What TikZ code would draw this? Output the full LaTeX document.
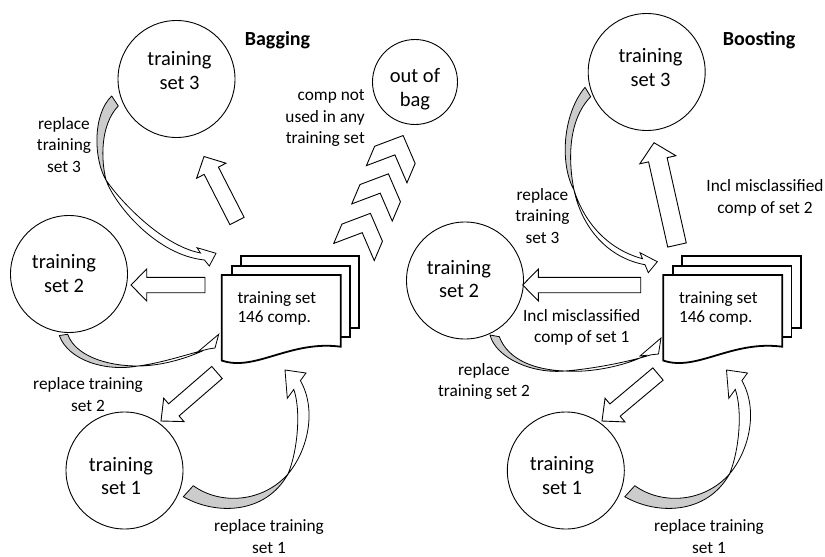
\documentclass[tikz,border=0pt]{standalone}
\usepackage{fontspec}
\setmainfont{Carlito}
\usetikzlibrary{calc}
\definecolor{shade}{RGB}{204,204,204}
\tikzset{
  circ/.style={circle, draw, line width=0.9pt, minimum size=117pt, inner sep=0pt},
  ctext/.style={align=center, inner sep=0pt, font=\fontsize{20.5}{23.5}\selectfont},
  lbl/.style={align=center, inner sep=0pt, font=\fontsize{17.3}{21.5}\selectfont},
  doctext/.style={align=left, inner sep=0pt, font=\fontsize{17.2}{18.5}\selectfont},
  ttl/.style={inner sep=0pt, font=\fontsize{20}{24}\selectfont\bfseries},
  blk/.style={draw, fill=white, line width=0.9pt, line join=miter},
  page/.style={draw, fill=white, line width=1.8pt, line join=miter},
  twist/.style={draw, fill=shade, line width=0.8pt, line join=round},
  band/.style={draw, fill=white, line width=0.8pt, line join=miter},
  chev/.style={draw, fill=white, line width=0.9pt, line join=miter},
  docstack/.pic={
    \draw[page] (19,-19) rectangle (137.6,53.3);
    \draw[page] (10,-9.3) rectangle (128.3,61.7);
    \draw[page] (0,0) -- (119,0) -- (119,71.7)
      .. controls (68.3,65) and (33.3,97) .. (0,85.5) -- cycle;
  },
  chevron/.pic={
    \draw[chev] (0,-22) -- (21,-22) -- (42,0) -- (21,22) -- (0,22) -- (21,0) -- cycle;
  }
}
% block arrow from base #1 to tip #2: shaft half width #3, head half width #4, head length #5
\newcommand\blkarrow[5]{%
  \coordinate (hb) at ($(#2)!#5!(#1)$);
  \draw[blk] ($(#1)!#3!90:(#2)$) -- ($(hb)!#3!90:(#2)$) -- ($(hb)!#4!90:(#2)$)
    -- (#2) -- ($(hb)!#4!-90:(#2)$) -- ($(hb)!#3!-90:(#2)$) -- ($(#1)!#3!-90:(#2)$) -- cycle;
}
\begin{document}
\begin{tikzpicture}[x=1pt,y=-1pt]
\useasboundingbox (0,0) rectangle (825,557);

% ---------------- Bagging ----------------
\node[circ] (b3) at (176.5,79) {};
\node[circ] (b2) at (69,274) {};
\node[circ] (b1) at (124.5,470.5) {};
\node[circ, minimum size=85pt] (bo) at (415,82) {};
\node[ctext] (b3t) at (179.5,70.5) {training\\set 3};
\node[ctext] (b2t) at (64,273.5) {training\\set 2};
\node[ctext] (b1t) at (121,476) {training\\set 1};
\node[ctext] (bot) at (415,89) {out of\\bag};
\node[ttl] (bag) at (277.5,40) {Bagging};

\pic at (221.7,275) {docstack};
\node[doctext] (bdt) at (276.8,308.5) {training set\\146 comp.};

\coordinate (bUa) at (237,221);   \coordinate (bUt) at (204,156.5);
\coordinate (bLa) at (205,285);   \coordinate (bLt) at (131,285);
\coordinate (bDa) at (217,372.5); \coordinate (bDt) at (161,421);
\blkarrow{bUa}{bUt}{8pt}{16.5pt}{16pt}
\blkarrow{bLa}{bLt}{7.7pt}{16pt}{15.7pt}
\blkarrow{bDa}{bDt}{8pt}{15.5pt}{17pt}

% out-of-bag chevrons
\pic[rotate=67] at (386.7,174.2) {chevron};
\pic[rotate=67] at (372,212.5) {chevron};
\pic[rotate=67] at (354,252) {chevron};

% curved arrow: set 3 back to the stack
\draw[twist] (111.7,96) .. controls (92,115) and (94,160) .. (106,180)
  .. controls (101,160) and (100,125) .. (118.3,106) -- cycle;
\draw[band] (106,180) .. controls (114,203) and (155,255) .. (204.5,260)
  -- (209.3,266) -- (216,253.3) -- (197,247.7) -- (200.5,253)
  .. controls (160,245) and (118,198) .. (106,180) -- cycle;

% curved arrow: set 2 back to the stack
\draw[twist] (59.3,335.5) .. controls (68,360) and (105,372) .. (138,366)
  .. controls (105,366) and (75,355) .. (67.7,334.3) -- cycle;
\draw[band] (138,366) .. controls (160,366) and (185,359) .. (203.1,350.6)
  -- (197.3,352.3) -- (218.7,334.3) -- (215,348) -- (208.9,348.9)
  .. controls (188,354) and (162,363) .. (138,366) -- cycle;

% curved arrow: set 1 back to the stack
\draw[twist] (183.3,496.7) .. controls (215,515) and (265,515) .. (288,474)
  .. controls (262,503) and (220,505) .. (193.3,485.7) -- cycle;
\draw[band] (288,474) .. controls (308,450) and (317,410) .. (300.4,380.6)
  -- (306,373) -- (285,370) -- (287.3,398.3) -- (293.8,389.4)
  .. controls (301,410) and (298,450) .. (288,474) -- cycle;

\node[lbl] (lr3) at (64,145) {replace\\training\\set 3};
\node[lbl, align=right, anchor=east] (lnot) at (365,118.5) {comp not\\used in any\\training set};
\node[lbl] (lr2) at (88,394.5) {replace training\\set 2};
\node[lbl] (lr1) at (269,536.5) {replace training\\set 1};

% ---------------- Boosting ----------------
\node[circ] (m3) at (646.7,72) {};
\node[circ] (m2) at (465,280.5) {};
\node[circ] (m1) at (565.8,470.5) {};
\node[ctext] (m3t) at (650.5,67.5) {training\\set 3};
\node[ctext] (m2t) at (459,279) {training\\set 2};
\node[ctext] (m1t) at (562,475.5) {training\\set 1};
\node[ttl] (boost) at (759,40) {Boosting};

\pic at (663.2,275) {docstack};
\node[doctext] (mdt) at (718.3,308.5) {training set\\146 comp.};

\coordinate (mUa) at (677,245);   \coordinate (mUt) at (654,142.7);
\coordinate (mLa) at (640.7,285); \coordinate (mLt) at (522.7,285);
\coordinate (mDa) at (658,374);   \coordinate (mDt) at (602,421);
\blkarrow{mUa}{mUt}{9.5pt}{18.5pt}{17.5pt}
\blkarrow{mLa}{mLt}{7.7pt}{16pt}{15.7pt}
\blkarrow{mDa}{mDt}{8pt}{15.5pt}{17pt}

% curved arrow: set 3 back to the stack
\draw[twist] (585,87.3) .. controls (562,115) and (560,165) .. (574,190)
  .. controls (568,160) and (568,120) .. (590.7,96.7) -- cycle;
\draw[band] (574,190) .. controls (582,228) and (608,258) .. (645,264.7)
  -- (648.3,272.7) -- (657.3,261.7) -- (640,252.7) -- (642.5,258.7)
  .. controls (610,250) and (585,225) .. (574,190) -- cycle;

% curved arrow: set 2 back to the stack
\draw[twist] (490,335) .. controls (496,358) and (532,374) .. (565,371)
  .. controls (535,370) and (508,360) .. (499.3,336.7) -- cycle;
\draw[band] (565,371) .. controls (590,373) and (625,366) .. (645.5,355.4)
  -- (640,356) -- (661,338) -- (658.5,354) -- (651.1,354.8)
  .. controls (628,362) and (592,369) .. (565,371) -- cycle;

% curved arrow: set 1 back to the stack
\draw[twist] (624.8,496.7) .. controls (656.5,515) and (706.5,515) .. (729.5,474)
  .. controls (703.5,503) and (661.5,505) .. (634.8,485.7) -- cycle;
\draw[band] (729.5,474) .. controls (749.5,450) and (758.5,410) .. (741.9,380.6)
  -- (747.5,373) -- (726.5,370) -- (728.8,398.3) -- (735.3,389.4)
  .. controls (742.5,410) and (739.5,450) .. (729.5,474) -- cycle;

\node[lbl] (mr3) at (542.5,216) {replace\\training\\set 3};
\node[lbl] (mi2) at (765,198) {Incl misclassified\\comp of set 2};
\node[lbl] (mi1) at (581.7,327.5) {Incl misclassified\\comp of set 1};
\node[lbl] (mr2) at (484,381.5) {replace\\training set 2};
\node[lbl] (mr1) at (709,536.5) {replace training\\set 1};
\end{tikzpicture}
\end{document}
